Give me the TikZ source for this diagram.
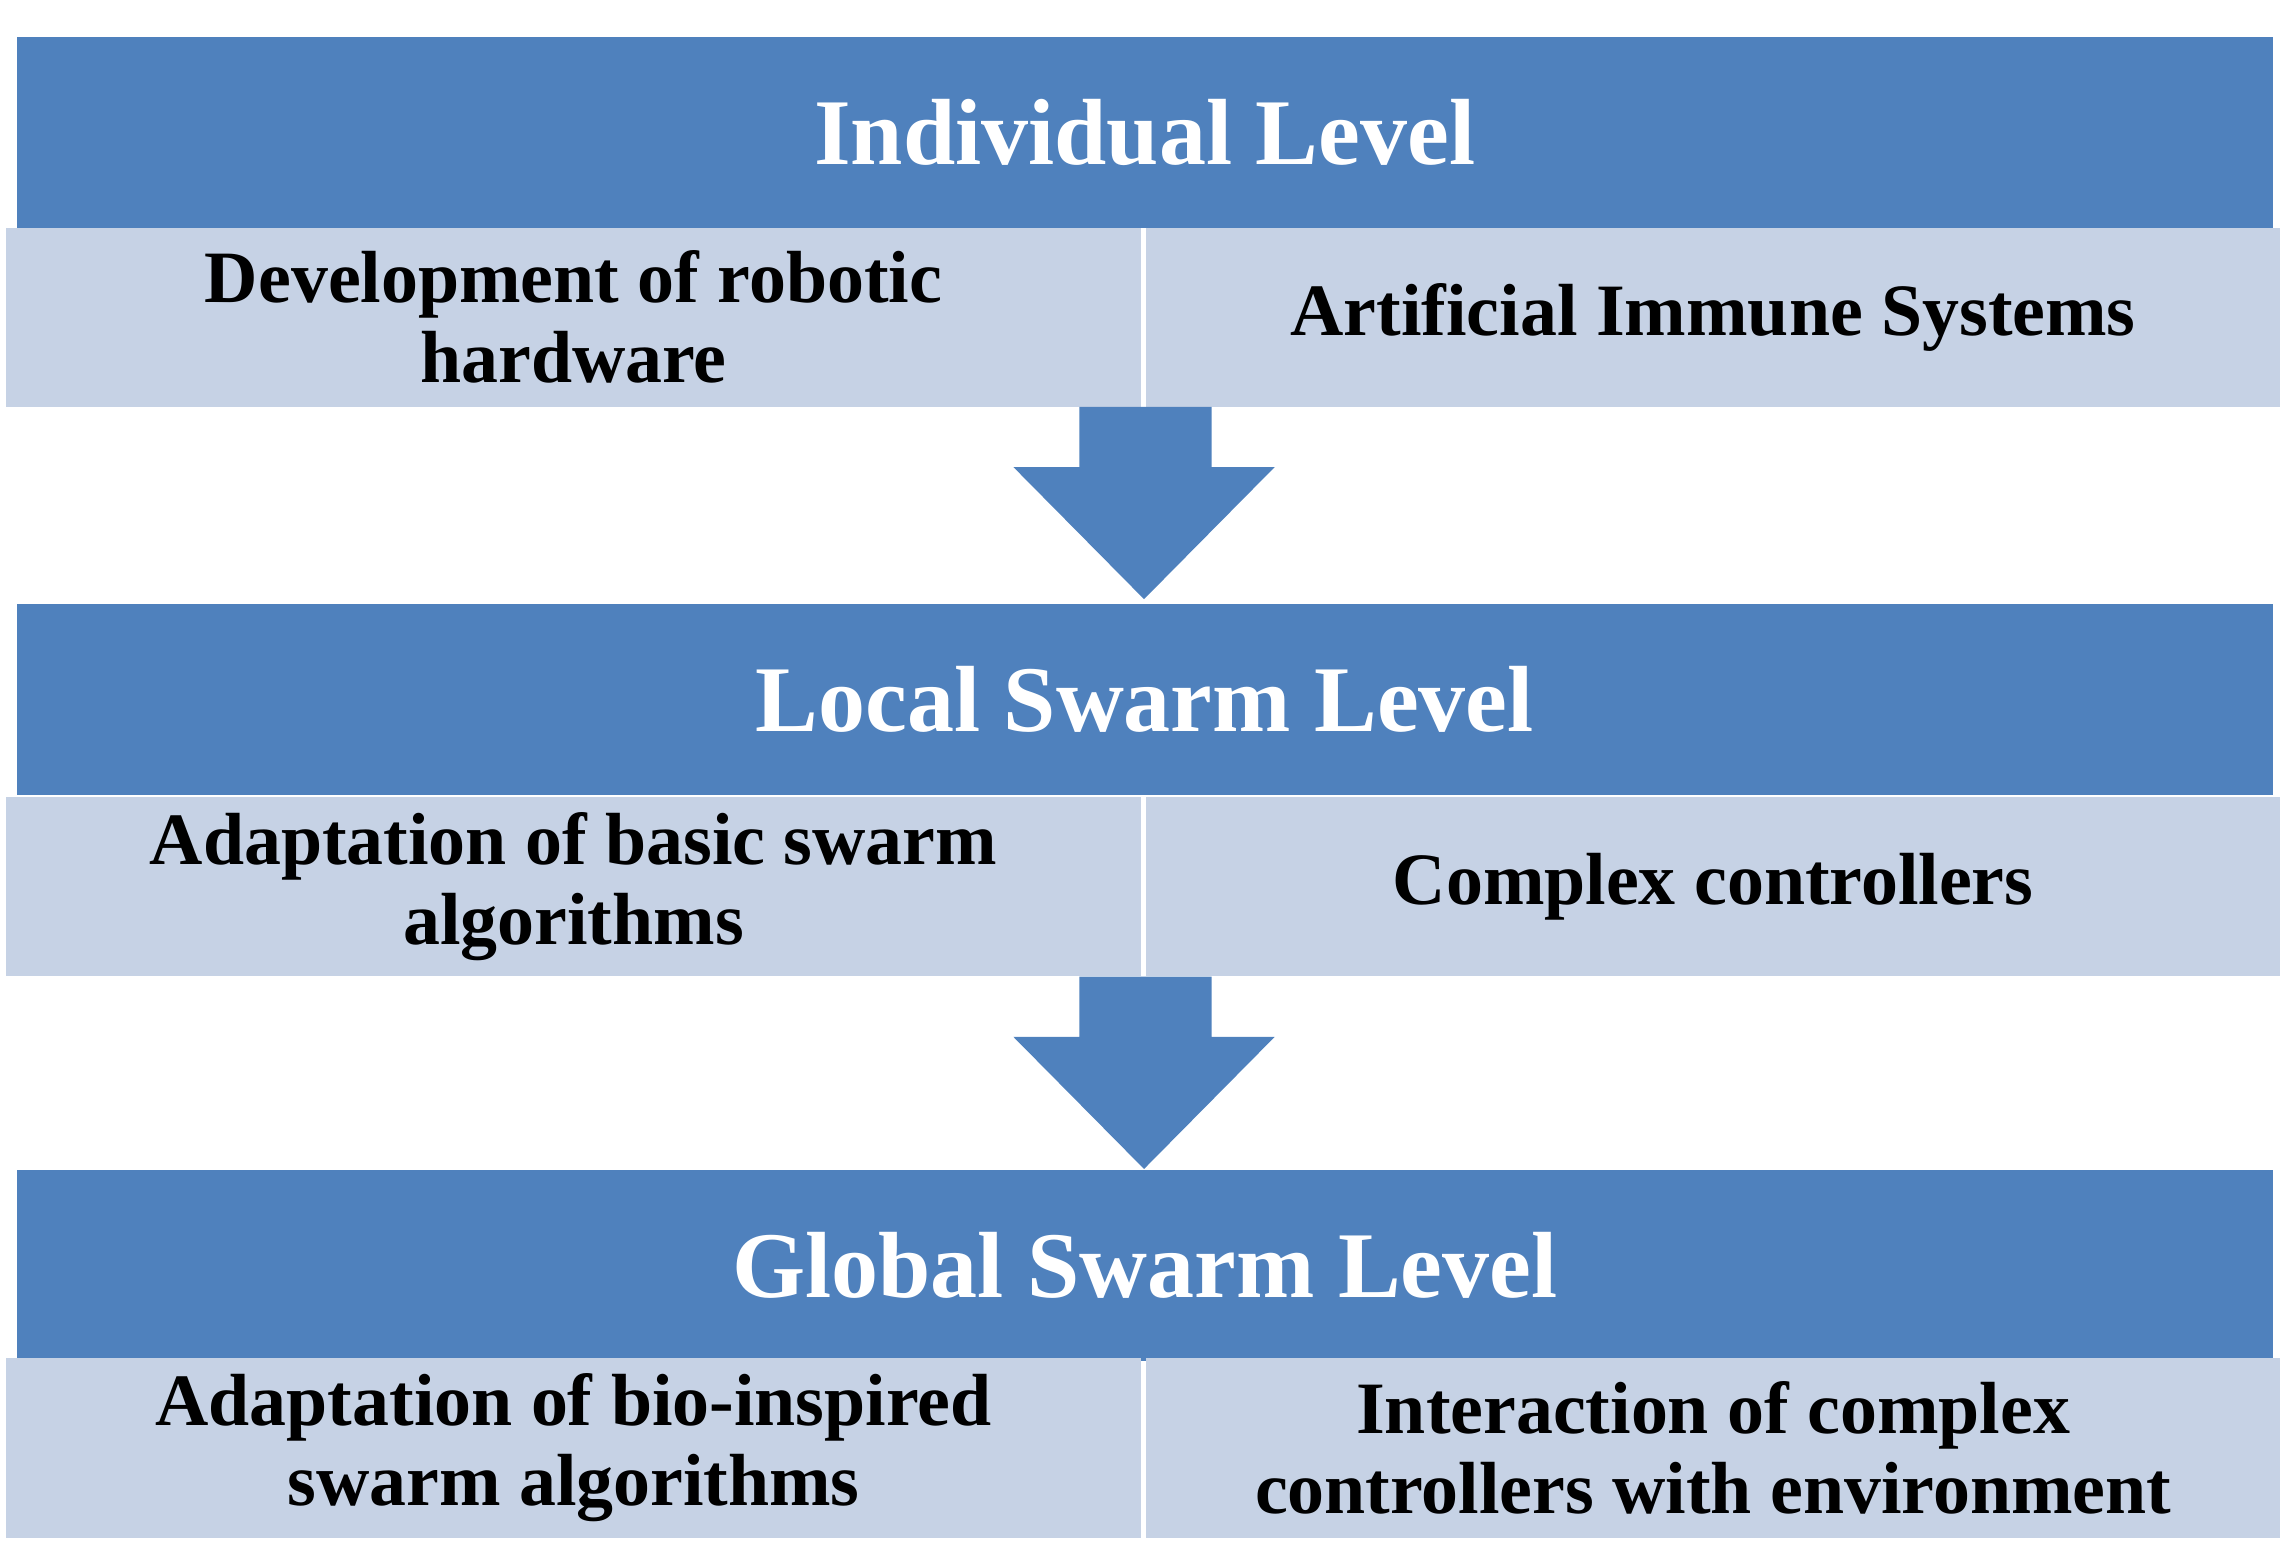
\documentclass[tikz,border=0pt]{standalone}
\usepackage{fontspec}
\setmainfont{Liberation Serif}
\usetikzlibrary{positioning}
\definecolor{headblue}{HTML}{4F81BD}
\definecolor{cellblue}{HTML}{C6D2E5}
\tikzset{
  head/.style = {fill = headblue, text = white, font = \bfseries\fontsize{18.2}{20}\selectfont, minimum width = 15.35cm, minimum height = 1.3cm, inner sep = 0pt},
  cell/.style = {fill = cellblue, font = \bfseries\fontsize{14.3}{15.5}\selectfont, minimum width = 7.72cm, minimum height = 1.22cm, inner sep = 0pt, align = center},
  down/.style = {fill = headblue}
}
\begin{document}
\begin{tikzpicture}[x = 0.01cm, y = -0.01cm]
\useasboundingbox (0,0) rectangle (1560,1055);
\node[head] (h1) at (779.5,90) {Individual Level};
\node[cell] (c1a) at (390.5,216) {Development of robotic\\hardware};
\node[cell] (c1b) at (1166.5,216) {Artificial Immune Systems};
\node[head] (h2) at (779.5,476.5) {Local Swarm Level};
\node[cell] (c2a) at (390.5,603.5) {Adaptation of basic swarm\\algorithms};
\node[cell] (c2b) at (1166.5,603.5) {Complex controllers};
\node[head] (h3) at (779.5,861.5) {Global Swarm Level};
\node[cell] (c3a) at (390.5,986) {Adaptation of bio-inspired\\swarm algorithms};
\node[cell] (c3b) at (1166.5,986) {Interaction of complex\\controllers with environment};
% block arrows between the levels
\foreach \t in {277,665}
  \fill[down] (735,\t) -- (825,\t) -- (825,\t+41) -- (868,\t+41) -- (779,\t+131)
    -- (690,\t+41) -- (735,\t+41) -- cycle;
\end{tikzpicture}
\end{document}
